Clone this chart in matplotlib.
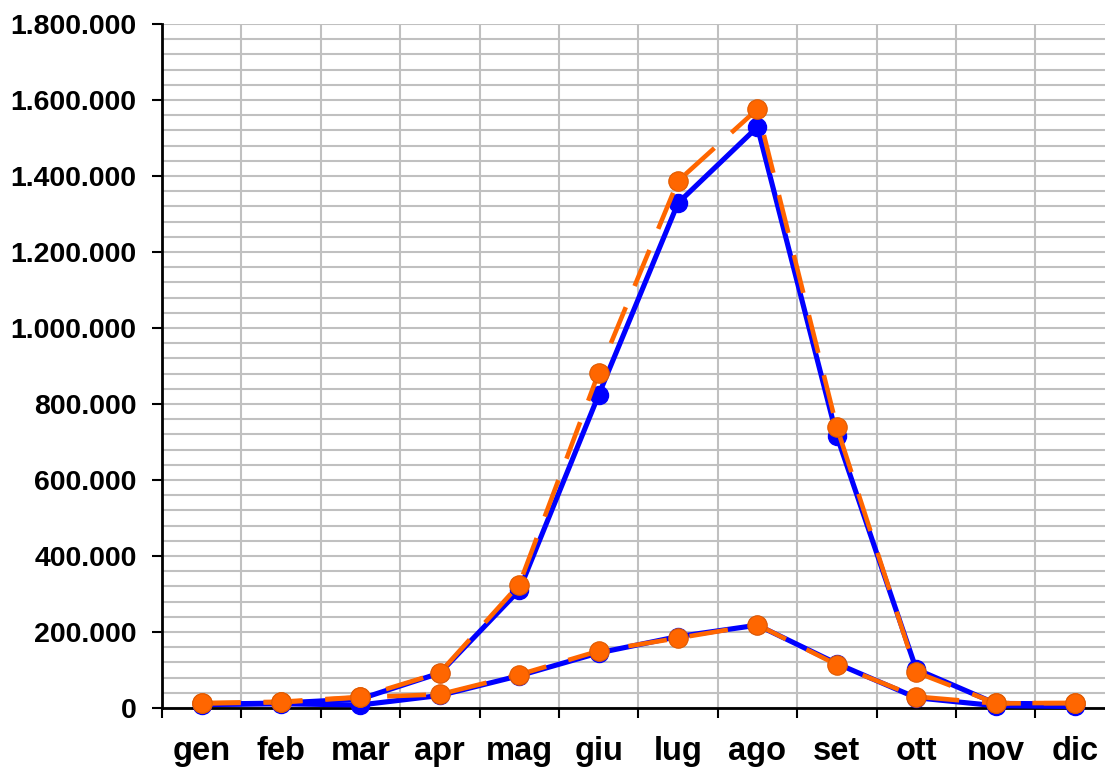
import matplotlib
matplotlib.use("Agg")
import matplotlib.pyplot as plt
from matplotlib.ticker import FuncFormatter, MultipleLocator
import numpy as np

months = ['gen', 'feb', 'mar', 'apr', 'mag', 'giu', 'lug', 'ago', 'set', 'ott', 'nov', 'dic']
upper_blue = [10000, 13000, 24000, 92000, 310000, 824000, 1329000, 1529000, 716000, 102000, 12000, 11000]
upper_orange = [13000, 16500, 29000, 93000, 325000, 882000, 1387000, 1576000, 739000, 94000, 13000, 13000]
lower_blue = [9000, 11000, 8000, 33000, 85000, 145000, 188000, 218000, 117000, 27000, 6000, 4000]
lower_orange = [12000, 15000, 28000, 36000, 88000, 150000, 184000, 219000, 114000, 30000, 12000, 13000]

plt.rcParams['font.family'] = ['Liberation Sans', 'DejaVu Sans']

fig = plt.figure(figsize=(11.05, 7.68), dpi=100)
L = 162 / 1105
R = 1114.7 / 1105
B = (768 - 708) / 768
T = (768 - 24) / 768
ax = fig.add_axes([L, B, R - L, T - B])

x = np.arange(len(months))
blue = '#0000FF'
orange = '#FF6600'

for yb, yo in [(upper_blue, upper_orange), (lower_blue, lower_orange)]:
    ax.plot(x, yb, color=blue, lw=3.7, marker='o', ms=13, mfc=blue, mec=blue,
            solid_capstyle='butt', zorder=3, clip_on=False)
    ax.plot(x, yo, color=orange, lw=3.3, dashes=(8.5, 5.0), marker='o', ms=14,
            mfc=orange, mec='#E05A00', mew=0.8, dash_capstyle='butt', zorder=4, clip_on=False)

ax.set_xlim(-0.5, len(months) - 0.5)
ax.set_ylim(0, 1800000)

# grid
ax.yaxis.set_major_locator(MultipleLocator(200000))
ax.yaxis.set_minor_locator(MultipleLocator(40000))
ax.set_xticks(np.arange(-0.5, len(months), 1.0))
ax.set_xticks(x, minor=True)
ax.set_xticklabels([])
ax.set_xticklabels(months, minor=True)
ax.grid(True, which='both', axis='y', color='#C0C0C0', lw=1.5, zorder=0)
ax.grid(True, which='major', axis='x', color='#C0C0C0', lw=1.5, zorder=0)
ax.set_axisbelow(True)

ax.yaxis.set_major_formatter(FuncFormatter(lambda v, p: f"{int(v):,}".replace(',', '.')))

for s in ['top', 'right']:
    ax.spines[s].set_visible(False)
for s in ['left', 'bottom']:
    ax.spines[s].set_linewidth(2)
    ax.spines[s].set_color('black')

ax.tick_params(axis='y', which='major', length=7.2, width=1.5, pad=11, labelsize=20.5)
ax.tick_params(axis='y', which='minor', length=0)
ax.tick_params(axis='x', which='major', length=7.2, width=1.5)
ax.tick_params(axis='x', which='minor', length=0, pad=20, labelsize=23.5)
for lab in ax.get_yticklabels() + ax.get_xticklabels(minor=True):
    lab.set_fontweight('bold')

fig.savefig('out.png', dpi=100)
